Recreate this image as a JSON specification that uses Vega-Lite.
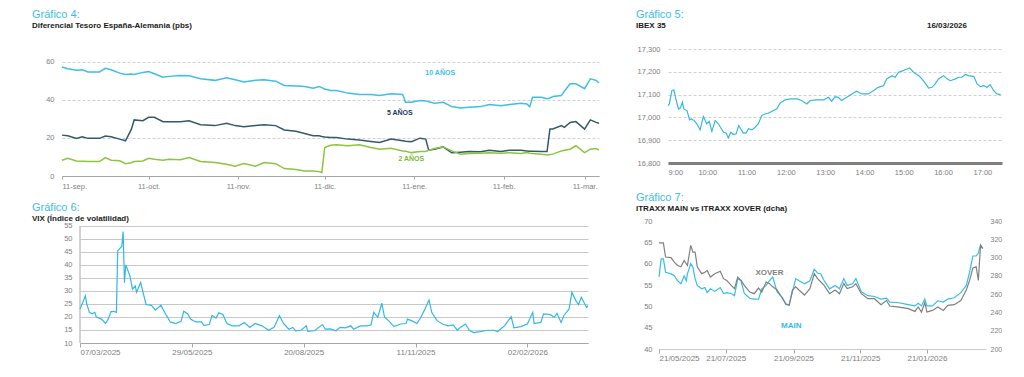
{
"$schema": "https://vega.github.io/schema/vega-lite/v6.json",
"background": "white",
"padding": {"left": 32, "top": 9, "right": 8, "bottom": 8},
"config": {
  "view": {"stroke": null},
  "font": "Liberation Sans",
  "axis": {"labelFont": "Liberation Sans", "labelColor": "#808080", "labelFontSize": 7.5, "domainColor": "#a6a6a6", "tickColor": "#a6a6a6", "labelOverlap": false},
  "title": {"font": "Liberation Sans", "fontSize": 11, "fontWeight": "normal", "color": "#3cbde8", "subtitleFont": "Liberation Sans", "subtitleFontSize": 8, "subtitleFontWeight": "bold", "subtitleColor": "#1a1a1a", "subtitlePadding": 2, "anchor": "start", "frame": "group"},
  "text": {"font": "Liberation Sans"}
},
"spacing": 2,
"vconcat": [
 {"hconcat": [
  {
   "width": 537, "height": 127,
   "title": {"text": "Gráfico 4:", "subtitle": "Diferencial Tesoro España-Alemania (pbs)", "dx": -30, "offset": 19},
   "data": {"values": [
    {"d":"2025-09-11","a":57.3,"b":21.5,"c":8.3},{"d":"2025-09-13","a":56.4,"b":21.2,"c":9.3},{"d":"2025-09-16","a":55.6,"b":19.8,"c":7.9},{"d":"2025-09-18","a":55.9,"b":20.6,"c":7.8},{"d":"2025-09-20","a":54.7,"b":19.8,"c":7.6},{"d":"2025-09-24","a":54.7,"b":19.8,"c":7.6},{"d":"2025-09-26","a":56.6,"b":21.0,"c":9.7},{"d":"2025-09-28","a":55.9,"b":20.6,"c":8.3},{"d":"2025-10-01","a":54.1,"b":19.4,"c":8.0},{"d":"2025-10-03","a":53.4,"b":18.5,"c":6.5},{"d":"2025-10-05","a":53.6,"b":24.5,"c":7.0},{"d":"2025-10-06","a":53.4,"b":29.5,"c":7.6},{"d":"2025-10-09","a":54.5,"b":29.1,"c":7.9},{"d":"2025-10-11","a":55.0,"b":30.9,"c":9.3},{"d":"2025-10-13","a":53.8,"b":30.9,"c":8.8},{"d":"2025-10-16","a":52.0,"b":28.6,"c":8.3},{"d":"2025-10-18","a":52.4,"b":28.6,"c":8.8},{"d":"2025-10-22","a":52.9,"b":28.6,"c":8.6},{"d":"2025-10-25","a":52.7,"b":29.1,"c":9.7},{"d":"2025-10-29","a":51.1,"b":27.0,"c":7.6},{"d":"2025-11-03","a":50.3,"b":26.5,"c":7.1},{"d":"2025-11-07","a":51.7,"b":27.7,"c":6.2},{"d":"2025-11-10","a":50.6,"b":26.5,"c":5.1},{"d":"2025-11-13","a":49.4,"b":25.9,"c":6.5},{"d":"2025-11-17","a":50.3,"b":26.5,"c":5.1},{"d":"2025-11-20","a":50.6,"b":27.0,"c":7.1},{"d":"2025-11-24","a":49.9,"b":26.5,"c":6.5},{"d":"2025-11-27","a":47.6,"b":24.2,"c":3.9},{"d":"2025-12-01","a":47.3,"b":23.5,"c":3.4},{"d":"2025-12-04","a":47.1,"b":22.4,"c":2.6},{"d":"2025-12-07","a":46.2,"b":21.2,"c":2.6},{"d":"2025-12-09","a":47.1,"b":21.2,"c":2.3},{"d":"2025-12-10","a":46.5,"b":20.8,"c":1.8},{"d":"2025-12-11","a":45.8,"b":20.5,"c":15.0},{"d":"2025-12-13","a":45.0,"b":20.3,"c":16.2},{"d":"2025-12-15","a":45.0,"b":20.3,"c":16.4},{"d":"2025-12-19","a":43.6,"b":19.4,"c":15.9},{"d":"2025-12-23","a":42.9,"b":18.9,"c":16.4},{"d":"2025-12-27","a":42.9,"b":18.2,"c":15.0},{"d":"2025-12-30","a":42.3,"b":17.6,"c":14.1},{"d":"2026-01-03","a":43.2,"b":19.4,"c":14.6},{"d":"2026-01-07","a":42.9,"b":18.5,"c":13.2},{"d":"2026-01-08","a":38.8,"b":18.3,"c":13.0},{"d":"2026-01-10","a":38.8,"b":18.0,"c":12.3},{"d":"2026-01-13","a":39.7,"b":19.9,"c":12.9},{"d":"2026-01-15","a":39.5,"b":19.4,"c":12.9},{"d":"2026-01-16","a":39.0,"b":13.6,"c":13.5},{"d":"2026-01-18","a":38.3,"b":14.1,"c":14.5},{"d":"2026-01-21","a":38.8,"b":15.3,"c":15.3},{"d":"2026-01-24","a":36.5,"b":12.2,"c":13.2},{"d":"2026-01-27","a":35.8,"b":12.5,"c":11.5},{"d":"2026-01-30","a":36.2,"b":12.9,"c":11.8},{"d":"2026-02-03","a":36.5,"b":12.7,"c":12.0},{"d":"2026-02-06","a":37.6,"b":13.6,"c":12.2},{"d":"2026-02-10","a":37.0,"b":12.9,"c":12.0},{"d":"2026-02-13","a":37.6,"b":13.6,"c":12.2},{"d":"2026-02-17","a":38.3,"b":13.6,"c":11.8},{"d":"2026-02-19","a":37.9,"b":13.2,"c":12.3},{"d":"2026-02-20","a":36.5,"b":13.0,"c":12.0},{"d":"2026-02-21","a":41.4,"b":13.0,"c":11.8},{"d":"2026-02-24","a":41.4,"b":12.9,"c":11.5},{"d":"2026-02-26","a":40.6,"b":12.9,"c":11.1},{"d":"2026-02-27","a":41.0,"b":24.7,"c":11.3},{"d":"2026-02-28","a":41.8,"b":24.7,"c":11.5},{"d":"2026-03-03","a":42.3,"b":26.5,"c":13.2},{"d":"2026-03-04","a":44.6,"b":25.6,"c":13.5},{"d":"2026-03-06","a":48.5,"b":28.2,"c":14.1},{"d":"2026-03-08","a":48.5,"b":28.6,"c":15.9},{"d":"2026-03-11","a":45.9,"b":24.7,"c":12.3},{"d":"2026-03-13","a":51.1,"b":29.5,"c":14.1},{"d":"2026-03-15","a":50.3,"b":28.2,"c":14.5},{"d":"2026-03-16","a":48.9,"b":27.7,"c":13.6}
   ]},
   "layer": [
    {"transform": [{"fold": ["a","b","c"], "as": ["s","v"]}],
     "mark": {"type": "line", "strokeWidth": 1.5},
     "encoding": {
      "x": {"field": "d", "type": "temporal", "title": null,
        "scale": {"type": "utc", "domain": [{"year":2025,"month":9,"date":11,"utc":true},{"year":2026,"month":3,"date":16,"utc":true}]},
        "axis": {"values": [{"year":2025,"month":9,"date":11,"utc":true},{"year":2025,"month":10,"date":11,"utc":true},{"year":2025,"month":11,"date":11,"utc":true},{"year":2025,"month":12,"date":11,"utc":true},{"year":2026,"month":1,"date":11,"utc":true},{"year":2026,"month":2,"date":11,"utc":true},{"year":2026,"month":3,"date":11,"utc":true}],
          "tickCount": 30,
          "labelExpr": "utcdate(datum.value) + '-' + ['ene.','feb.','mar.','abr.','may.','jun.','jul.','ago.','sep.','oct.','nov.','dic.'][utcmonth(datum.value)]",
          "grid": false, "tickSize": 3, "labelPadding": 3}},
      "y": {"field": "v", "type": "quantitative", "title": null,
        "scale": {"domain": [0, 66.8], "nice": false, "zero": false},
        "axis": {"values": [0,20,40,60], "tickCount": 20, "domain": false, "ticks": false, "grid": true, "gridDash": [3,2], "gridColor": "#d0d0d0", "labelPadding": 8}},
      "color": {"field": "s", "type": "nominal", "scale": {"domain": ["a","b","c"], "range": ["#3dbfe8","#35596c","#8bc53f"]}, "legend": null}
     }},
    {"data": {"values": [{"d":"2026-01-20","v":54.2,"t":"10 AÑOS","s":"a"},{"d":"2026-01-06","v":33.2,"t":"5 AÑOS","s":"b"},{"d":"2026-01-10","v":8.9,"t":"2 AÑOS","s":"c"}]},
     "mark": {"type": "text", "fontWeight": "bold", "fontSize": 7},
     "encoding": {
      "x": {"field": "d", "type": "temporal", "title": null},
      "y": {"field": "v", "type": "quantitative", "title": null},
      "text": {"field": "t"},
      "color": {"field": "s", "type": "nominal", "scale": {"domain": ["a","b","c"], "range": ["#3dbfe8","#1f3864","#7ab83a"]}, "legend": null}
     }}
   ],
   "resolve": {"scale": {"color": "independent"}}
  },
  {
   "width": 334, "height": 114,
   "title": {"text": "Gráfico 5:", "subtitle": "IBEX 35", "dx": -32, "offset": -8},
   "data": {"values": [
    {"t":"09:00","v":17052},{"t":"09:02","v":17059},{"t":"09:06","v":17118},{"t":"09:09","v":17120},{"t":"09:12","v":17081},{"t":"09:16","v":17037},{"t":"09:19","v":17042},{"t":"09:22","v":17066},{"t":"09:24","v":17037},{"t":"09:29","v":17030},{"t":"09:33","v":16989},{"t":"09:36","v":16993},{"t":"09:40","v":16986},{"t":"09:44","v":16972},{"t":"09:49","v":16945},{"t":"09:54","v":17004},{"t":"09:59","v":16972},{"t":"10:03","v":16983},{"t":"10:07","v":16939},{"t":"10:12","v":16986},{"t":"10:17","v":16972},{"t":"10:20","v":16957},{"t":"10:25","v":16935},{"t":"10:29","v":16931},{"t":"10:32","v":16910},{"t":"10:36","v":16935},{"t":"10:40","v":16925},{"t":"10:44","v":16928},{"t":"10:48","v":16964},{"t":"10:51","v":16950},{"t":"10:55","v":16931},{"t":"10:59","v":16931},{"t":"11:03","v":16950},{"t":"11:08","v":16945},{"t":"11:13","v":16957},{"t":"11:18","v":16972},{"t":"11:23","v":17008},{"t":"11:28","v":17015},{"t":"11:33","v":17018},{"t":"11:41","v":17030},{"t":"11:46","v":17037},{"t":"11:51","v":17062},{"t":"11:59","v":17077},{"t":"12:07","v":17081},{"t":"12:17","v":17081},{"t":"12:24","v":17074},{"t":"12:32","v":17059},{"t":"12:37","v":17074},{"t":"12:47","v":17077},{"t":"12:58","v":17077},{"t":"13:05","v":17088},{"t":"13:10","v":17071},{"t":"13:15","v":17091},{"t":"13:20","v":17088},{"t":"13:25","v":17074},{"t":"13:33","v":17088},{"t":"13:41","v":17103},{"t":"13:48","v":17115},{"t":"13:56","v":17103},{"t":"14:06","v":17103},{"t":"14:14","v":17118},{"t":"14:21","v":17132},{"t":"14:29","v":17139},{"t":"14:34","v":17169},{"t":"14:42","v":17183},{"t":"14:47","v":17176},{"t":"14:52","v":17198},{"t":"14:59","v":17205},{"t":"15:05","v":17212},{"t":"15:09","v":17217},{"t":"15:15","v":17198},{"t":"15:23","v":17183},{"t":"15:30","v":17161},{"t":"15:38","v":17129},{"t":"15:43","v":17132},{"t":"15:48","v":17147},{"t":"15:53","v":17169},{"t":"16:01","v":17183},{"t":"16:06","v":17169},{"t":"16:11","v":17161},{"t":"16:19","v":17169},{"t":"16:24","v":17176},{"t":"16:29","v":17176},{"t":"16:34","v":17188},{"t":"16:39","v":17183},{"t":"16:47","v":17179},{"t":"16:52","v":17147},{"t":"16:57","v":17135},{"t":"17:02","v":17139},{"t":"17:07","v":17132},{"t":"17:12","v":17144},{"t":"17:17","v":17118},{"t":"17:22","v":17103},{"t":"17:28","v":17100}
   ], "format": {"parse": {"t": "date:'%H:%M'"}}},
   "layer": [
    {"mark": {"type": "line", "strokeWidth": 1.2, "color": "#35b8e0"},
     "encoding": {
      "x": {"field": "t", "type": "temporal", "title": null,
        "scale": {"domain": [{"year":1900,"month":1,"date":1,"hours":9},{"year":1900,"month":1,"date":1,"hours":17,"minutes":30}]},
        "axis": {"values": [{"year":1900,"month":1,"date":1,"hours":9},{"year":1900,"month":1,"date":1,"hours":10},{"year":1900,"month":1,"date":1,"hours":11},{"year":1900,"month":1,"date":1,"hours":12},{"year":1900,"month":1,"date":1,"hours":13},{"year":1900,"month":1,"date":1,"hours":14},{"year":1900,"month":1,"date":1,"hours":15},{"year":1900,"month":1,"date":1,"hours":16},{"year":1900,"month":1,"date":1,"hours":17}],
          "tickCount": 30, "format": "%-H:%M", "domainWidth": 3, "domainColor": "#7f7f7f", "ticks": false, "labelPadding": 5, "grid": false}},
      "y": {"field": "v", "type": "quantitative", "title": null,
        "scale": {"domain": [16800, 17300], "nice": false, "zero": false},
        "axis": {"values": [16800,16900,17000,17100,17200,17300], "tickCount": 20, "format": ",d", "domain": false, "ticks": false, "grid": true, "gridDash": [3,2], "gridColor": "#d0d0d0", "labelPadding": 8}}
     }},
    {"data": {"values": [{}]},
     "mark": {"type": "text", "fontWeight": "bold", "fontSize": 8, "color": "#1a1a1a"},
     "encoding": {
      "x": {"datum": {"year":1900,"month":1,"date":1,"hours":16,"minutes":6}, "type": "temporal"},
      "y": {"datum": 17400, "type": "quantitative"},
      "text": {"value": "16/03/2026"}
     }}
   ]
  }
 ], "bounds": "flush", "spacing": 69},
 {"hconcat": [
  {"width": 18, "height": 10, "data": {"values": []}, "mark": "point", "encoding": {}},
  {"hconcat": [
   {
    "width": 508, "height": 122,
    "title": {"text": "Gráfico 6:", "subtitle": "VIX (Índice de volatilidad)", "dx": -48, "offset": -2},
    "layer": [
     {"data": {"values": [
      {"d":"2025-03-07","v":23.1},{"d":"2025-03-09","v":25.6},{"d":"2025-03-11","v":28.2},{"d":"2025-03-12","v":25.0},{"d":"2025-03-14","v":21.8},{"d":"2025-03-16","v":21.2},{"d":"2025-03-18","v":21.8},{"d":"2025-03-19","v":20.1},{"d":"2025-03-23","v":19.2},{"d":"2025-03-26","v":17.5},{"d":"2025-03-28","v":19.2},{"d":"2025-03-30","v":22.1},{"d":"2025-04-01","v":22.2},{"d":"2025-04-03","v":21.8},{"d":"2025-04-04","v":45.5},{"d":"2025-04-07","v":47.1},{"d":"2025-04-08","v":52.9},{"d":"2025-04-09","v":33.2},{"d":"2025-04-10","v":40.0},{"d":"2025-04-13","v":35.9},{"d":"2025-04-15","v":30.7},{"d":"2025-04-17","v":32.0},{"d":"2025-04-18","v":29.5},{"d":"2025-04-21","v":33.3},{"d":"2025-04-25","v":24.8},{"d":"2025-04-29","v":24.5},{"d":"2025-05-02","v":22.6},{"d":"2025-05-06","v":24.5},{"d":"2025-05-10","v":20.7},{"d":"2025-05-13","v":18.1},{"d":"2025-05-17","v":17.5},{"d":"2025-05-21","v":18.3},{"d":"2025-05-23","v":22.2},{"d":"2025-05-26","v":21.2},{"d":"2025-05-28","v":19.2},{"d":"2025-06-01","v":18.1},{"d":"2025-06-05","v":18.1},{"d":"2025-06-07","v":16.8},{"d":"2025-06-11","v":17.1},{"d":"2025-06-13","v":20.6},{"d":"2025-06-16","v":19.6},{"d":"2025-06-18","v":21.6},{"d":"2025-06-21","v":21.0},{"d":"2025-06-24","v":17.5},{"d":"2025-06-28","v":16.6},{"d":"2025-07-03","v":16.6},{"d":"2025-07-07","v":17.9},{"d":"2025-07-11","v":16.0},{"d":"2025-07-15","v":17.5},{"d":"2025-07-20","v":16.6},{"d":"2025-07-25","v":14.9},{"d":"2025-07-29","v":16.0},{"d":"2025-08-02","v":20.5},{"d":"2025-08-05","v":17.5},{"d":"2025-08-09","v":15.3},{"d":"2025-08-12","v":16.0},{"d":"2025-08-14","v":14.7},{"d":"2025-08-18","v":14.9},{"d":"2025-08-22","v":16.6},{"d":"2025-08-23","v":14.5},{"d":"2025-08-28","v":14.7},{"d":"2025-09-03","v":17.1},{"d":"2025-09-05","v":15.3},{"d":"2025-09-09","v":15.4},{"d":"2025-09-13","v":14.7},{"d":"2025-09-16","v":16.0},{"d":"2025-09-20","v":15.8},{"d":"2025-09-24","v":16.6},{"d":"2025-09-26","v":15.3},{"d":"2025-10-01","v":16.6},{"d":"2025-10-06","v":16.6},{"d":"2025-10-09","v":17.0},{"d":"2025-10-11","v":21.8},{"d":"2025-10-14","v":19.9},{"d":"2025-10-17","v":25.3},{"d":"2025-10-19","v":19.9},{"d":"2025-10-22","v":18.6},{"d":"2025-10-26","v":16.3},{"d":"2025-10-31","v":17.3},{"d":"2025-11-04","v":17.5},{"d":"2025-11-05","v":19.2},{"d":"2025-11-08","v":18.6},{"d":"2025-11-12","v":17.5},{"d":"2025-11-15","v":19.9},{"d":"2025-11-18","v":23.1},{"d":"2025-11-21","v":26.5},{"d":"2025-11-23","v":21.8},{"d":"2025-11-27","v":18.6},{"d":"2025-12-01","v":17.3},{"d":"2025-12-05","v":16.6},{"d":"2025-12-09","v":17.0},{"d":"2025-12-12","v":14.9},{"d":"2025-12-14","v":15.9},{"d":"2025-12-18","v":17.3},{"d":"2025-12-21","v":14.9},{"d":"2025-12-24","v":14.0},{"d":"2025-12-29","v":14.4},{"d":"2026-01-03","v":14.9},{"d":"2026-01-08","v":14.9},{"d":"2026-01-11","v":14.4},{"d":"2026-01-16","v":16.6},{"d":"2026-01-21","v":20.1},{"d":"2026-01-23","v":15.8},{"d":"2026-01-28","v":16.3},{"d":"2026-02-02","v":17.3},{"d":"2026-02-06","v":21.8},{"d":"2026-02-07","v":17.5},{"d":"2026-02-12","v":17.9},{"d":"2026-02-14","v":21.2},{"d":"2026-02-19","v":20.9},{"d":"2026-02-22","v":19.9},{"d":"2026-02-24","v":21.4},{"d":"2026-02-27","v":17.9},{"d":"2026-03-01","v":20.5},{"d":"2026-03-05","v":23.1},{"d":"2026-03-07","v":29.5},{"d":"2026-03-10","v":26.3},{"d":"2026-03-12","v":24.7},{"d":"2026-03-14","v":27.6},{"d":"2026-03-16","v":25.6},{"d":"2026-03-18","v":23.7},{"d":"2026-03-19","v":24.4}
     ]},
      "mark": {"type": "line", "strokeWidth": 1.2, "color": "#33b8e6"},
      "encoding": {
       "x": {"field": "d", "type": "temporal", "title": null,
         "scale": {"type": "utc", "domain": [{"year":2025,"month":3,"date":7,"utc":true},{"year":2026,"month":3,"date":19,"utc":true}]},
         "axis": {"values": [{"year":2025,"month":3,"date":7,"utc":true},{"year":2025,"month":5,"date":29,"utc":true},{"year":2025,"month":8,"date":20,"utc":true},{"year":2025,"month":11,"date":11,"utc":true},{"year":2026,"month":2,"date":2,"utc":true}],
           "tickCount": 30, "labelExpr": "utcFormat(datum.value, '%d/%m/%Y')", "tickSize": 4, "labelPadding": 1, "grid": false, "labelFontSize": 8}},
       "y": {"field": "v", "type": "quantitative", "title": null,
         "scale": {"domain": [10, 56.92], "nice": false, "zero": false},
         "axis": {"values": [10,15,20,25,30,35,40,45,50,55], "tickCount": 20, "domain": false, "ticks": false, "grid": true, "gridColor": "#c8c8c8", "labelPadding": 8}}
      }},
     {"data": {"values": [{}]},
      "mark": {"type": "rule", "color": "#a6a6a6"},
      "encoding": {
       "x": {"datum": {"year":2025,"month":3,"date":7,"utc":true}, "type": "temporal"},
       "y": {"datum": 10, "type": "quantitative"},
       "y2": {"datum": 55}
      }}
    ]
   },
   {
    "width": 327, "height": 128,
    "title": {"text": "Gráfico 7:", "subtitle": "ITRAXX MAIN vs ITRAXX XOVER (dcha)", "dx": -23, "offset": 4},
    "data": {"values": [
     {"d":"2025-05-21","m":56.9,"x":316.3},{"d":"2025-05-22","m":59.0,"x":316},{"d":"2025-05-23","m":61.1,"x":316},{"d":"2025-05-25","m":61.1,"x":316},{"d":"2025-05-27","m":58.0,"x":300.6},{"d":"2025-06-01","m":57.6,"x":300},{"d":"2025-06-04","m":57.2,"x":295},{"d":"2025-06-07","m":56.0,"x":291.4},{"d":"2025-06-10","m":55.3,"x":290},{"d":"2025-06-13","m":57.1,"x":296.9},{"d":"2025-06-15","m":56.0,"x":293},{"d":"2025-06-16","m":57.6,"x":291.4},{"d":"2025-06-19","m":60.0,"x":313.3},{"d":"2025-06-21","m":59.2,"x":306},{"d":"2025-06-23","m":56.5,"x":306},{"d":"2025-06-25","m":54.9,"x":290},{"d":"2025-06-29","m":54.1,"x":282.4},{"d":"2025-07-02","m":54.4,"x":284},{"d":"2025-07-04","m":53.2,"x":286},{"d":"2025-07-07","m":54.1,"x":278.7},{"d":"2025-07-11","m":53.5,"x":282.4},{"d":"2025-07-16","m":54.4,"x":285},{"d":"2025-07-19","m":53.0,"x":276.9},{"d":"2025-07-22","m":53.2,"x":275},{"d":"2025-07-26","m":53.0,"x":269.6},{"d":"2025-07-29","m":52.5,"x":266},{"d":"2025-08-01","m":56.5,"x":278.7},{"d":"2025-08-04","m":56.0,"x":275},{"d":"2025-08-07","m":53.0,"x":269.6},{"d":"2025-08-12","m":51.9,"x":262.3},{"d":"2025-08-16","m":51.7,"x":260.5},{"d":"2025-08-20","m":51.7,"x":266.7},{"d":"2025-08-23","m":54.1,"x":262.3},{"d":"2025-08-27","m":54.9,"x":273.3},{"d":"2025-08-30","m":56.0,"x":271.5},{"d":"2025-09-02","m":56.9,"x":268},{"d":"2025-09-06","m":53.4,"x":264.5},{"d":"2025-09-11","m":52.0,"x":255},{"d":"2025-09-14","m":50.4,"x":249.5},{"d":"2025-09-17","m":50.4,"x":247.7},{"d":"2025-09-20","m":53.4,"x":264.5},{"d":"2025-09-23","m":56.5,"x":268},{"d":"2025-09-26","m":56.0,"x":264.5},{"d":"2025-10-01","m":55.3,"x":259},{"d":"2025-10-06","m":56.0,"x":266},{"d":"2025-10-10","m":58.7,"x":282.4},{"d":"2025-10-13","m":57.8,"x":276.9},{"d":"2025-10-16","m":57.6,"x":273.3},{"d":"2025-10-19","m":56.0,"x":269.6},{"d":"2025-10-24","m":54.1,"x":260.5},{"d":"2025-10-29","m":54.9,"x":264.5},{"d":"2025-11-02","m":54.1,"x":260.5},{"d":"2025-11-06","m":56.5,"x":271.5},{"d":"2025-11-09","m":54.9,"x":266},{"d":"2025-11-14","m":55.3,"x":268},{"d":"2025-11-17","m":56.5,"x":271.5},{"d":"2025-11-22","m":53.4,"x":260.5},{"d":"2025-11-28","m":52.5,"x":255},{"d":"2025-12-04","m":52.3,"x":255},{"d":"2025-12-10","m":51.7,"x":248.5},{"d":"2025-12-15","m":51.9,"x":253},{"d":"2025-12-18","m":51.0,"x":247},{"d":"2025-12-25","m":50.9,"x":246},{"d":"2026-01-04","m":50.4,"x":244.1},{"d":"2026-01-10","m":50.1,"x":241.1},{"d":"2026-01-13","m":50.7,"x":246},{"d":"2026-01-16","m":50.1,"x":240.4},{"d":"2026-01-19","m":51.7,"x":250.8},{"d":"2026-01-21","m":50.1,"x":240.4},{"d":"2026-01-26","m":50.1,"x":242.2},{"d":"2026-01-31","m":51.3,"x":246},{"d":"2026-02-05","m":51.0,"x":242.2},{"d":"2026-02-09","m":51.7,"x":247.7},{"d":"2026-02-15","m":52.0,"x":248.5},{"d":"2026-02-21","m":53.2,"x":253},{"d":"2026-02-26","m":54.9,"x":264.5},{"d":"2026-03-01","m":58.0,"x":275},{"d":"2026-03-04","m":61.8,"x":288.6},{"d":"2026-03-07","m":61.8,"x":290},{"d":"2026-03-09","m":62.5,"x":275},{"d":"2026-03-11","m":64.4,"x":313.3},{"d":"2026-03-13","m":63.6,"x":309.7}
    ]},
    "layer": [
     {"layer": [
      {"mark": {"type": "line", "strokeWidth": 1.2, "color": "#35bde8"},
       "encoding": {
        "x": {"field": "d", "type": "temporal", "title": null,
          "scale": {"type": "utc", "domain": [{"year":2025,"month":5,"date":21,"utc":true},{"year":2026,"month":3,"date":16,"utc":true}]},
          "axis": {"values": [{"year":2025,"month":5,"date":21,"utc":true},{"year":2025,"month":7,"date":21,"utc":true},{"year":2025,"month":9,"date":21,"utc":true},{"year":2025,"month":11,"date":21,"utc":true},{"year":2026,"month":1,"date":21,"utc":true}],
            "tickCount": 30, "labelExpr": "utcFormat(datum.value, '%d/%m/%Y')", "tickSize": 4, "labelPadding": 1, "grid": false, "labelFontSize": 8, "domainColor": "#c8c8c8"}},
        "y": {"field": "m", "type": "quantitative", "title": null,
          "scale": {"domain": [40, 70], "nice": false, "zero": false},
          "axis": {"values": [40,45,50,55,60,65,70], "tickCount": 20, "domain": false, "ticks": false, "grid": false, "labelPadding": 7}}
       }},
      {"data": {"values": [{"d":"2025-08-30","v":57.9,"t":"XOVER","c":"x"},{"d":"2025-09-19","v":45.3,"t":"MAIN","c":"m"}]},
       "mark": {"type": "text", "fontWeight": "bold", "fontSize": 8},
       "encoding": {
        "x": {"field": "d", "type": "temporal", "title": null},
        "y": {"field": "v", "type": "quantitative", "title": null},
        "text": {"field": "t"},
        "color": {"field": "c", "type": "nominal", "scale": {"domain": ["m","x"], "range": ["#35bde8","#7f7f7f"]}, "legend": null}
       }}
     ]},
     {"mark": {"type": "line", "strokeWidth": 1.2, "color": "#808080"},
      "encoding": {
       "x": {"field": "d", "type": "temporal", "title": null},
       "y": {"field": "x", "type": "quantitative", "title": null,
         "scale": {"domain": [200, 340], "nice": false, "zero": false},
         "axis": {"orient": "right", "values": [200,220,240,260,280,300,320,340], "tickCount": 20, "domain": false, "ticks": false, "grid": false, "labelPadding": 4, "labelFontSize": 7}}
      }}
    ],
    "resolve": {"scale": {"y": "independent"}}
   }
  ], "bounds": "flush", "spacing": 71}
 ], "bounds": "flush", "spacing": 0}
]
}
